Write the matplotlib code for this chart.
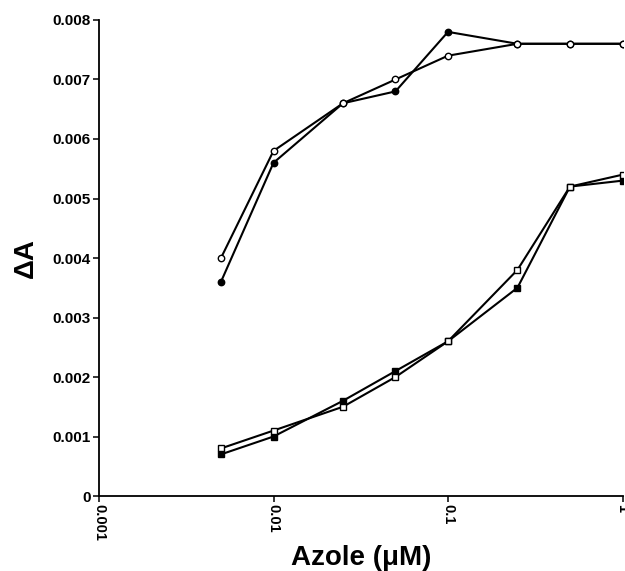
import matplotlib
matplotlib.use("Agg")
import matplotlib.pyplot as plt
from matplotlib.ticker import FixedLocator, NullLocator, FixedFormatter

# ==========================================
# DATA
# ==========================================

azole_um = [0.005, 0.01, 0.025, 0.05, 0.1, 0.25, 0.5, 1.0]

circle_filled = [0.0036, 0.0056, 0.0066, 0.0068, 0.0078, 0.0076, 0.0076, 0.0076]
circle_open = [0.0040, 0.0058, 0.0066, 0.0070, 0.0074, 0.0076, 0.0076, 0.0076]
square_filled = [0.0007, 0.0010, 0.0016, 0.0021, 0.0026, 0.0035, 0.0052, 0.0053]
square_open = [0.0008, 0.0011, 0.0015, 0.0020, 0.0026, 0.0038, 0.0052, 0.0054]

x_ticks = [0.001, 0.01, 0.1, 1]
x_tick_labels = ["0.001", "0.01", "0.1", "1"]
y_ticks = [0, 0.001, 0.002, 0.003, 0.004, 0.005, 0.006, 0.007, 0.008]
y_tick_labels = ["0", "0.001", "0.002", "0.003", "0.004",
                 "0.005", "0.006", "0.007", "0.008"]

# ==========================================
# FIGURE
# ==========================================

plt.rcParams['font.family'] = ['Liberation Sans', 'DejaVu Sans']

fig = plt.figure(figsize=(6.25, 5.71), dpi=100)
ax = fig.add_axes([0.1584, 0.1313, 0.8376, 0.8337])

line_kw = dict(color='black', linewidth=1.5, markeredgecolor='black',
               markeredgewidth=1.0, clip_on=True)

ax.plot(azole_um, circle_filled, marker='o', markersize=4.6,
        markerfacecolor='black', **line_kw)
ax.plot(azole_um, circle_open, marker='o', markersize=4.6,
        markerfacecolor='white', **line_kw)
ax.plot(azole_um, square_filled, marker='s', markersize=4.9,
        markerfacecolor='black', **line_kw)
ax.plot(azole_um, square_open, marker='s', markersize=4.9,
        markerfacecolor='white', **line_kw)

ax.set_xscale('log')
ax.set_xlim(0.001, 1)
ax.set_ylim(0, 0.008)

ax.xaxis.set_major_locator(FixedLocator(x_ticks))
ax.xaxis.set_major_formatter(FixedFormatter(x_tick_labels))
ax.xaxis.set_minor_locator(NullLocator())
ax.yaxis.set_major_locator(FixedLocator(y_ticks))
ax.yaxis.set_major_formatter(FixedFormatter(y_tick_labels))

ax.spines['top'].set_visible(False)
ax.spines['right'].set_visible(False)
ax.spines['left'].set_linewidth(1.3)
ax.spines['bottom'].set_linewidth(1.3)

ax.tick_params(axis='both', direction='out', length=4, width=1.1, pad=2)
ax.tick_params(axis='y', labelsize=11)
ax.tick_params(axis='x', labelsize=10.5)
for lbl in ax.get_xticklabels():
    lbl.set_rotation(-90)
    lbl.set_fontweight('bold')
for lbl in ax.get_yticklabels():
    lbl.set_fontweight('bold')

ax.set_xlabel("Azole (\u03bcM)", fontsize=20, fontweight='bold', labelpad=3)
ax.set_ylabel("\u0394A", fontsize=20, fontweight='bold', labelpad=10)

fig.savefig("out.png", dpi=100)
